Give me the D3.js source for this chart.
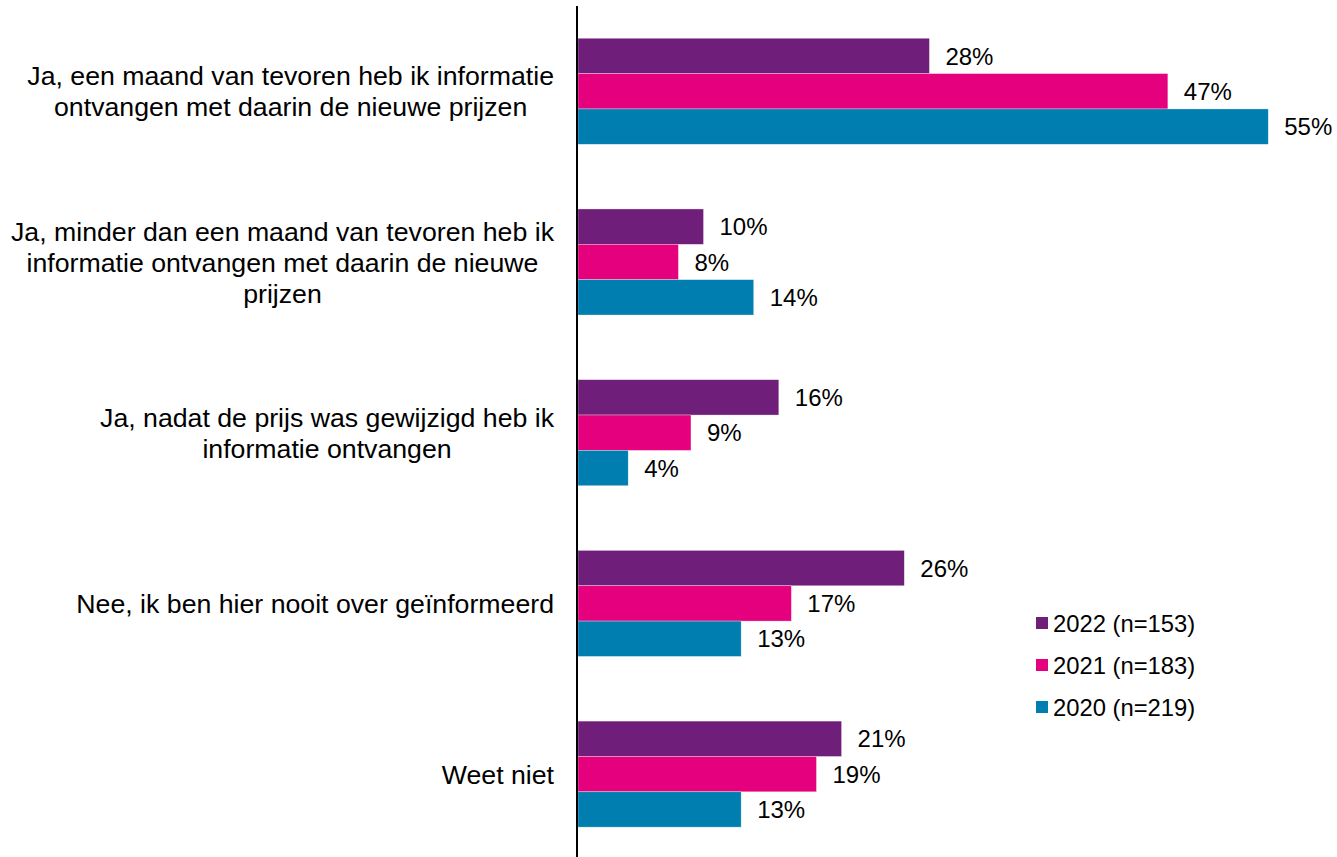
<!DOCTYPE html>
<html>
<head>
<meta charset="utf-8">
<script src="https://cdn.jsdelivr.net/npm/d3@7"></script>
<style>
  html, body { margin: 0; padding: 0; background: #fff; }
  svg { display: block; font-family: "Liberation Sans", Arial, sans-serif; }
</style>
</head>
<body>
<svg id="chart"></svg>
<script>
var width = 1337,
    height = 857;

// categories, one entry per line of the label
var categories = [
  ["Ja, een maand van tevoren heb ik informatie", "ontvangen met daarin de nieuwe prijzen"],
  ["Ja, minder dan een maand van tevoren heb ik", "informatie ontvangen met daarin de nieuwe", "prijzen"],
  ["Ja, nadat de prijs was gewijzigd heb ik", "informatie ontvangen"],
  ["Nee, ik ben hier nooit over geïnformeerd"],
  ["Weet niet"]
];

var seriesNames = ["2022 (n=153)", "2021 (n=183)", "2020 (n=219)"];
var values2022 = [28, 10, 16, 26, 21];
var values2021 = [47, 8, 9, 17, 19];
var values2020 = [55, 14, 4, 13, 13];
var colors = ["#6f1f7a", "#e5007e", "#007eb0"];

var seriesValues = [values2022, values2021, values2020];

var svg = d3.select("#chart")
    .attr("width", width)
    .attr("height", height);

var x0 = 578;

var x = d3.scaleLinear()
    .domain([0, 100])
    .range([x0, x0 + 1255]);

var y = d3.scaleBand()
    .domain(d3.range(categories.length))
    .range([6, 859.4])
    .paddingInner(0.379)
    .paddingOuter(0.189);

var ySub = d3.scaleBand()
    .domain(d3.range(seriesNames.length))
    .range([0, y.bandwidth()]);

var groups = svg.selectAll(".group")
    .data(categories)
    .join("g")
    .attr("class", "group")
    .attr("transform", (d, i) => `translate(0, ${y(i)})`);

groups.each(function (cat, ci) {
    var g = d3.select(this);
    var rows = seriesValues.map((vals, si) => ({ si: si, v: vals[ci] }));

    g.selectAll("rect")
        .data(rows)
        .join("rect")
        .attr("x", x(0))
        .attr("y", d => ySub(d.si))
        .attr("width", d => x(d.v) - x(0))
        .attr("height", ySub.bandwidth())
        .attr("fill", d => colors[d.si])
        .attr("stroke", "#ffffff")
        .attr("stroke-opacity", 0.5)
        .attr("stroke-width", 0.6);

    g.selectAll(".val")
        .data(rows)
        .join("text")
        .attr("class", "val")
        .attr("x", d => x(d.v) + 16)
        .attr("y", d => ySub(d.si) + ySub.bandwidth() / 2)
        .attr("dy", "0.36em")
        .attr("font-size", "24px")
        .attr("fill", "#000")
        .text(d => d.v + "%");
});

// category labels: block right-aligned to the axis, lines centred inside the block
var labelRight = 554,
    lineHeight = 31,
    catSize = "26.7px";

groups.each(function (lines) {
    var g = d3.select(this);
    var cy = y.bandwidth() / 2;
    var t = g.selectAll(".cat")
        .data(lines)
        .join("text")
        .attr("class", "cat")
        .attr("font-size", catSize)
        .attr("fill", "#000")
        .attr("text-anchor", "middle")
        .attr("y", (d, i) => cy + (i - (lines.length - 1) / 2) * lineHeight)
        .attr("dy", "0.36em")
        .text(d => d);
    var maxW = d3.max(t.nodes(), n => n.getComputedTextLength());
    t.attr("x", labelRight - maxW / 2);
});

// axis line
svg.append("line")
    .attr("x1", 577)
    .attr("x2", 577)
    .attr("y1", 6)
    .attr("y2", height)
    .attr("stroke", "#000")
    .attr("stroke-width", 2);

// legend
var legend = svg.append("g")
    .attr("transform", "translate(1036, 623)");

var items = legend.selectAll("g")
    .data(seriesNames)
    .join("g")
    .attr("transform", (d, i) => `translate(0, ${i * 42})`);

items.append("rect")
    .attr("x", 0)
    .attr("y", -6)
    .attr("width", 12)
    .attr("height", 12)
    .attr("fill", (d, i) => colors[i]);

items.append("text")
    .attr("x", 17)
    .attr("y", 0)
    .attr("dy", "0.36em")
    .attr("font-size", "23.8px")
    .attr("fill", "#000")
    .text(d => d);
</script>
</body>
</html>
